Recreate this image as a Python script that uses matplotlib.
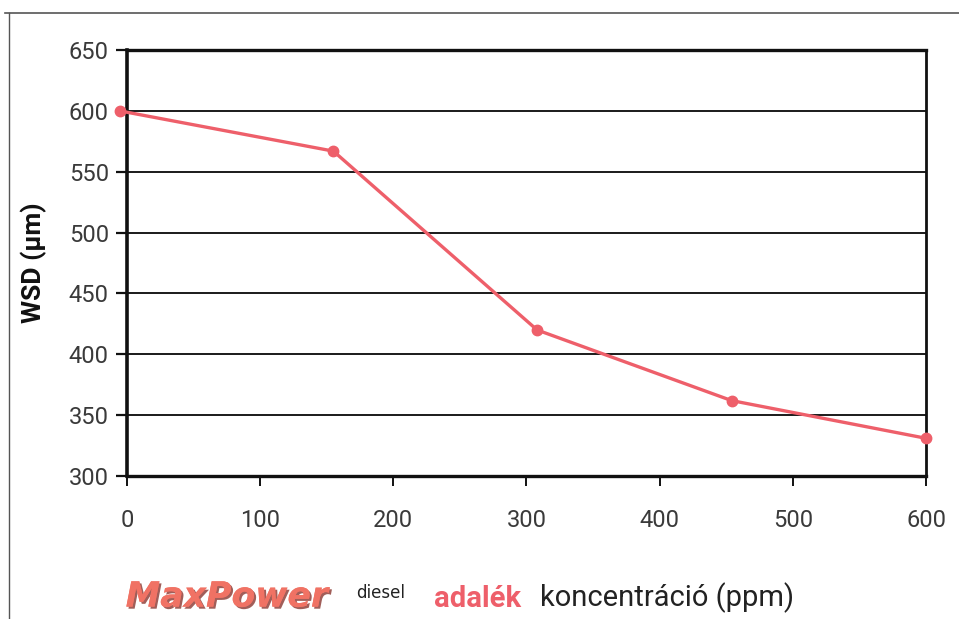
import matplotlib
matplotlib.use('Agg')
import matplotlib.pyplot as plt
import matplotlib.patheffects as pe
from matplotlib.lines import Line2D

# data
conc_ppm = [-5, 155, 308, 454, 600]
wsd_um = [600, 567, 420, 362, 331]
x_ticks = [0, 100, 200, 300, 400, 500, 600]
y_ticks = [300, 350, 400, 450, 500, 550, 600, 650]

LINE_COLOR = '#EE5F6A'
TEXT_GRAY = '#3a3a3a'
plt.rcParams['font.family'] = ['Roboto', 'DejaVu Sans']

fig = plt.figure(figsize=(9.59, 6.19), dpi=100, facecolor='white')
ax = fig.add_axes([0.1324, 0.231, 0.8332, 0.688])

ax.plot(conc_ppm, wsd_um, color=LINE_COLOR, linewidth=2.4, marker='o',
        markersize=7.5, clip_on=False, zorder=5)

ax.set_xlim(0, 600)
ax.set_ylim(300, 650)
ax.set_xticks(x_ticks)
ax.set_yticks(y_ticks)
ax.grid(axis='y', color='#1a1a1a', linewidth=1.4)
ax.set_axisbelow(True)

for side in ['left', 'right', 'top', 'bottom']:
    ax.spines[side].set_color('#111111')
    ax.spines[side].set_zorder(3)
ax.spines['left'].set_linewidth(2.6)
ax.spines['bottom'].set_linewidth(2.4)
ax.spines['top'].set_linewidth(2.4)
ax.spines['right'].set_linewidth(2.0)

ax.tick_params(axis='y', direction='out', length=8, width=1.6, color='#111111',
               labelcolor=TEXT_GRAY, labelsize=17, pad=5)
ax.tick_params(axis='x', direction='out', length=7, width=1.4, color='#111111',
               labelcolor=TEXT_GRAY, labelsize=17, pad=17)

ax.set_ylabel('WSD (µm)', fontsize=19, fontweight='bold', color='#111111', labelpad=16)

# scanned page border
fig.add_artist(Line2D([0.005, 1.0], [0.979, 0.979], color='#555555', linewidth=1.2))
fig.add_artist(Line2D([0.009, 0.009], [0.0, 0.979], color='#555555', linewidth=1.0))

# x axis caption, built from pieces
y_cap = 0.02
fig.text(0.131, y_cap, 'MaxPower', fontsize=25, fontweight='bold', fontstyle='italic',
         family='DejaVu Sans', color='#F07264', va='baseline',
         path_effects=[pe.withSimplePatchShadow(offset=(1.5, -1.5), shadow_rgbFace='#7a1a12', alpha=0.7),
                       pe.Normal()])
fig.text(0.371, y_cap + 0.014, 'diesel', fontsize=12, color='#222222', va='baseline',
         family='DejaVu Sans')
fig.text(0.453, y_cap, 'adalék', fontsize=21, fontweight='bold', color=LINE_COLOR, va='baseline')
fig.text(0.563, y_cap, 'koncentráció (ppm)', fontsize=21, color='#222222', va='baseline')

fig.savefig('out.png', dpi=100, facecolor='white')
